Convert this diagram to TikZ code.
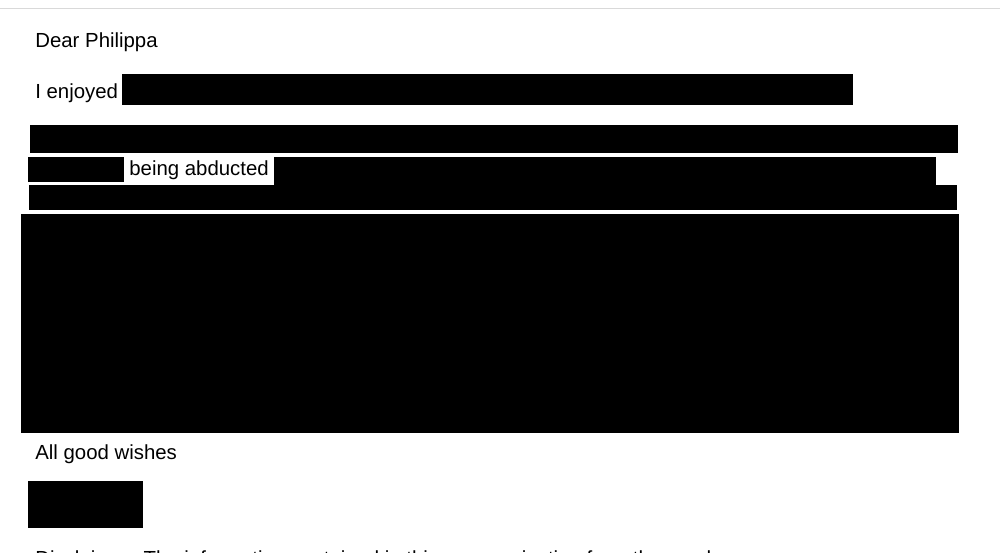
\documentclass[tikz,border=0pt]{standalone}
\usepackage{fontspec}
\setmainfont{Liberation Sans}
\tikzset{
  redact/.style={fill=black},
  letter/.style={anchor=west, inner sep=0pt, font=\fontsize{11.6}{13}\selectfont}
}
\begin{document}
\begin{tikzpicture}[x=0.02cm, y=-0.02cm]
\useasboundingbox (0,0) rectangle (1000,553);
\clip (0,0) rectangle (1000,553);
\fill[white] (0,0) rectangle (1000,553);
\draw[black!15] (0,8) -- (1000,8);

% text lines
\node[letter] (greet) at (35,42) {Dear Philippa};
\node[letter] (enjoy) at (35,93) {I enjoyed};
\node[letter] (abduct) at (129,170) {being abducted};
\node[letter] (wishes) at (35,454) {All good wishes};
\node[letter, anchor=base west] (disc) at (35,565) {Disclaimer: The information contained in this communication from the sender};

% redactions
\foreach \xa/\ya/\xb/\yb in {122/74/853/105, 30/125/958/153, 28/157/124/182,
  274/157/936/185, 29/185/957/210, 21/214/959/433, 28/481/143/528}
  \fill[redact] (\xa,\ya) rectangle (\xb,\yb);
\end{tikzpicture}
\end{document}
